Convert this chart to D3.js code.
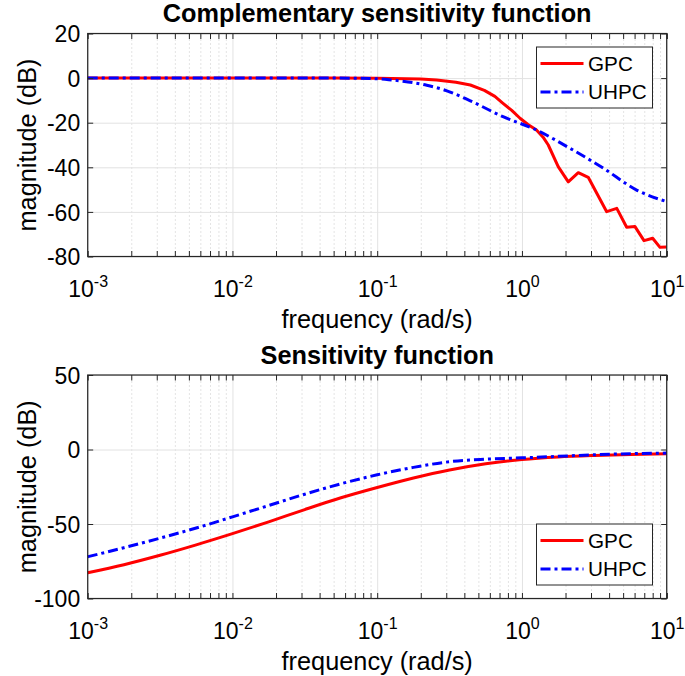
<!DOCTYPE html>
<html>
<head>
<meta charset="utf-8">
<script src="https://cdn.jsdelivr.net/npm/d3@7"></script>
<style>
  html, body { margin: 0; padding: 0; background: #fff; }
  svg { display: block; }
  text { font-family: "Liberation Sans", Arial, Helvetica, sans-serif; fill: #000; }
</style>
</head>
<body>
<svg id="chart" width="685" height="676"></svg>
<script>
// ---------------- data ----------------
const seriesNames = ["GPC", "UHPC"];
const xTickExponents = [-3, -2, -1, 0, 1];
const xLabel = "frequency (rad/s)";
const yLabel = "magnitude (dB)";

// Complementary sensitivity function
const titleT = "Complementary sensitivity function";
const yTicksT = [20, 0, -20, -40, -60, -80];
const freqT_gpc = [0.001, 0.01, 0.05, 0.1, 0.2, 0.257, 0.35, 0.44, 0.55, 0.65, 0.74, 0.85, 0.97, 1.1, 1.26, 1.4, 1.52,
                   1.78, 2.09, 2.45, 2.87, 3.85, 4.52, 5.29, 6.04, 6.97, 8.0, 8.99, 10];
const magT_gpc  = [0, 0, 0, -0.1, -0.4, -0.85, -1.9, -3.1, -5.5, -8.2, -11.3, -14.5, -18, -20.8, -23.3, -26.5, -30,
                   -39.7, -46.5, -42.4, -44.5, -59.9, -58.4, -66.9, -66.6, -72.9, -71.8, -75.9, -75.7];
const freqT_uhpc = [0.001, 0.01, 0.05, 0.09, 0.12, 0.15, 0.22, 0.3, 0.44, 0.74, 1.26, 2.15, 3.65, 6.2, 10];
const magT_uhpc  = [0, 0, 0, -0.2, -0.7, -1.4, -3.2, -5.6, -10.2, -17.3, -23.3, -31.5, -40.4, -50.2, -55.4];

// Sensitivity function
const titleS = "Sensitivity function";
const yTicksS = [50, 0, -50, -100];
const freqS = [0.001, 0.00178, 0.00316, 0.00562, 0.01, 0.0178, 0.0316, 0.0562, 0.1, 0.178, 0.316, 0.562, 1, 1.78, 3.16, 5.62, 10];
const magS_gpc  = [-82.7, -77.3, -71.0, -64.0, -56.5, -48.6, -40.3, -32.4, -25.5, -19.1, -13.7, -9.5, -6.7, -5.0, -4.0, -3.3, -2.9];
const magS_uhpc = [-72.0, -65.9, -59.5, -52.7, -45.2, -37.6, -30.0, -23.0, -17.0, -12.0, -8.2, -6.5, -5.6, -4.6, -3.5, -2.8, -2.4];

// ---------------- drawing ----------------
const svg = d3.select("#chart");
const L = 87.7, R = 666.7;
const styles = [
  { color: "#ff0000", dash: null },
  { color: "#0000ff", dash: "10,4,3,4" }
];
const LW = 3;

function panel(cfg) {
  const x = d3.scaleLog().domain([1e-3, 1e1]).range([L, R]);
  const y = d3.scaleLinear().domain(cfg.yDomain).range([cfg.bottom, cfg.top]);
  const g = svg.append("g");
  const H = cfg.bottom - cfg.top, W = R - L;
  const majorX = xTickExponents.map(e => Math.pow(10, e));
  const allX = x.ticks();
  const minorX = allX.filter(v => !majorX.some(m => Math.abs(m - v) / m < 1e-6));

  // minor grid (dotted)
  g.append("g").attr("transform", `translate(0,${cfg.bottom})`)
    .call(d3.axisBottom(x).tickValues(minorX).tickSize(-H).tickFormat(""))
    .call(s => s.select(".domain").remove())
    .call(s => s.selectAll("line").attr("stroke", "#c8c8c8").attr("stroke-width", 1).attr("stroke-dasharray", "1,3"));
  // major grid
  g.append("g").attr("transform", `translate(0,${cfg.bottom})`)
    .call(d3.axisBottom(x).tickValues(majorX).tickSize(-H).tickFormat(""))
    .call(s => s.select(".domain").remove())
    .call(s => s.selectAll("line").attr("stroke", "#e2e2e2").attr("stroke-width", 1));
  g.append("g").attr("transform", `translate(${L},0)`)
    .call(d3.axisLeft(y).tickValues(cfg.yTicks).tickSize(-W).tickFormat(""))
    .call(s => s.select(".domain").remove())
    .call(s => s.selectAll("line").attr("stroke", "#e2e2e2").attr("stroke-width", 1));

  // curves
  cfg.series.forEach((sr, i) => {
    const line = d3.line().x(d => x(d[0])).y(d => y(d[1])).curve(sr.curve);
    g.append("path")
      .datum(sr.f.map((f, k) => [f, sr.m[k]]))
      .attr("d", line)
      .attr("fill", "none")
      .attr("stroke", styles[i].color)
      .attr("stroke-width", LW)
      .attr("stroke-dasharray", styles[i].dash)
      .attr("stroke-linejoin", "round");
  });

  const axisColor = "#262626";
  // ticks (inside) on four sides
  const tickLen = 5.5;
  const mkTicks = (axisGen, tr) => g.append("g").attr("transform", tr).call(axisGen)
    .call(s => s.select(".domain").remove())
    .call(s => s.selectAll("line").attr("stroke", axisColor).attr("stroke-width", 1));
  mkTicks(d3.axisBottom(x).tickValues(allX.concat([10])).tickSize(-tickLen).tickFormat(""), `translate(0,${cfg.bottom})`);
  mkTicks(d3.axisTop(x).tickValues(allX.concat([10])).tickSize(-tickLen).tickFormat(""), `translate(0,${cfg.top})`);
  mkTicks(d3.axisLeft(y).tickValues(cfg.yTicks).tickSize(-tickLen).tickFormat(""), `translate(${L},0)`);
  mkTicks(d3.axisRight(y).tickValues(cfg.yTicks).tickSize(-tickLen).tickFormat(""), `translate(${R},0)`);

  // box
  g.append("rect").attr("x", L).attr("y", cfg.top).attr("width", W).attr("height", H)
    .attr("fill", "none").attr("stroke", axisColor).attr("stroke-width", 1.2);

  // y tick labels
  g.append("g").attr("transform", `translate(${L},0)`)
    .call(d3.axisLeft(y).tickValues(cfg.yTicks).tickSize(0).tickPadding(7.5).tickFormat(d => d))
    .call(s => s.select(".domain").remove())
    .call(s => s.selectAll("text").attr("font-size", 23).attr("font-family", '"Liberation Sans", Arial, sans-serif')
      .attr("fill", "#000").attr("dy", "0.36em"));

  // x tick labels 10^e
  const xl = g.append("g").attr("transform", `translate(0,${cfg.bottom})`)
    .call(d3.axisBottom(x).tickValues(majorX).tickSize(0).tickFormat(""))
    .call(s => s.select(".domain").remove());
  xl.selectAll(".tick").each(function(d, i) {
    const t = d3.select(this).append("text").attr("y", 40.5).attr("text-anchor", "middle")
      .attr("font-size", 23).attr("fill", "#000").attr("font-family", '"Liberation Sans", Arial, sans-serif');
    t.append("tspan").text("10");
    t.append("tspan").attr("dy", -10).attr("font-size", 16).text(xTickExponents[i]);
  });

  // axis labels
  g.append("text").attr("x", (L + R) / 2).attr("y", cfg.bottom + 71.5).attr("text-anchor", "middle")
    .attr("font-size", 25.3).text(xLabel);
  g.append("text").attr("transform", `translate(36,${(cfg.top + cfg.bottom) / 2}) rotate(-90)`)
    .attr("text-anchor", "middle").attr("font-size", 25.3).text(yLabel);
  // title
  g.append("text").attr("x", (L + R) / 2).attr("y", cfg.top - 11.5).attr("text-anchor", "middle")
    .attr("font-size", 25.3).attr("font-weight", "bold").text(cfg.title);

  // legend
  const lg = g.append("g").attr("transform", `translate(536.5,${cfg.legendTop})`);
  lg.append("rect").attr("width", 116).attr("height", 61).attr("fill", "#fff")
    .attr("stroke", axisColor).attr("stroke-width", 1);
  seriesNames.forEach((name, i) => {
    const yy = 16.5 + i * 28.5;
    lg.append("line").attr("x1", 4).attr("x2", 47).attr("y1", yy).attr("y2", yy)
      .attr("stroke", styles[i].color).attr("stroke-width", LW).attr("stroke-dasharray", styles[i].dash);
    lg.append("text").attr("x", 51.5).attr("y", yy).attr("dy", "0.36em").attr("font-size", 20.7).text(name);
  });
}

panel({
  top: 33.5, bottom: 256.5, yDomain: [-80, 20], yTicks: yTicksT, title: titleT, legendTop: 47,
  series: [
    { f: freqT_gpc, m: magT_gpc, curve: d3.curveLinear },
    { f: freqT_uhpc, m: magT_uhpc, curve: d3.curveMonotoneX }
  ]
});
panel({
  top: 375, bottom: 598.5, yDomain: [-100, 50], yTicks: yTicksS, title: titleS, legendTop: 524,
  series: [
    { f: freqS, m: magS_gpc, curve: d3.curveMonotoneX },
    { f: freqS, m: magS_uhpc, curve: d3.curveMonotoneX }
  ]
});
</script>
</body>
</html>
